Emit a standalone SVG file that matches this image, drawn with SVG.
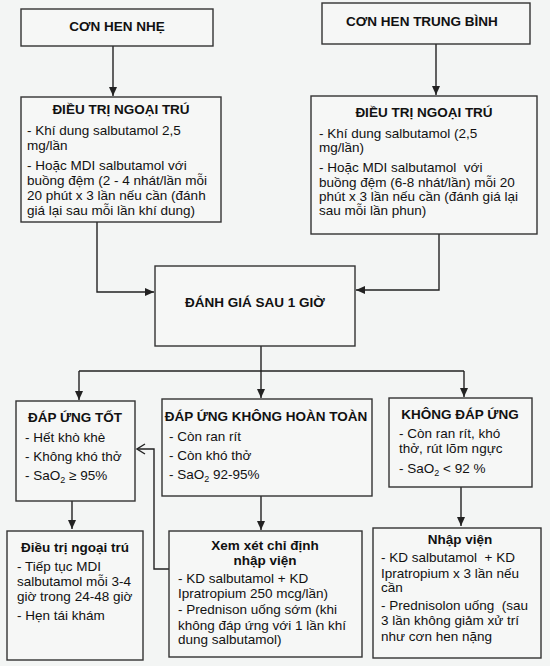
<svg xmlns="http://www.w3.org/2000/svg" width="550" height="666" viewBox="0 0 550 666">
<defs>
<marker id="ah" markerWidth="10" markerHeight="8" refX="9" refY="4" orient="auto" markerUnits="userSpaceOnUse">
<path d="M0,0 L9,4 L0,8 Z" fill="#222"/>
</marker>
<marker id="oh" markerWidth="10" markerHeight="12" refX="9" refY="6" orient="auto" markerUnits="userSpaceOnUse">
<path d="M1,1 L9,6 L1,11" fill="none" stroke="#222" stroke-width="1.4"/>
</marker>
</defs>
<style>
.box{fill:#f6f7f6;stroke:#333;stroke-width:1.4}
text{font-family:"Liberation Sans",Arial,sans-serif;font-size:13.5px;fill:#111}
.b{font-weight:bold}
.c{text-anchor:middle}
.ln{fill:none;stroke:#222;stroke-width:1.4}
.sub{font-size:9px}
</style>
<rect width="550" height="666" fill="#f3f5f4"/>

<g id="connectors">
<path class="ln" d="M113,46 V96" marker-end="url(#ah)"/>
<path class="ln" d="M436,44 V95" marker-end="url(#ah)"/>
<path class="ln" d="M97,222 V292 H154" marker-end="url(#ah)"/>
<path class="ln" d="M439,234 V290 H356" marker-end="url(#ah)"/>
<path class="ln" d="M261,346 V371"/>
<path class="ln" d="M79,371 H464"/>
<path class="ln" d="M79,371 V400" marker-end="url(#ah)"/>
<path class="ln" d="M261,371 V398" marker-end="url(#ah)"/>
<path class="ln" d="M464,371 V397" marker-end="url(#ah)"/>
<path class="ln" d="M72,501 V529" marker-end="url(#ah)"/>
<path class="ln" d="M261,496 V530" marker-end="url(#ah)"/>
<path class="ln" d="M461,487 V526" marker-end="url(#ah)"/>
<path class="ln" d="M169,569 H154 V449 H137" marker-end="url(#oh)"/>
</g>

<g id="con-hen-nhe">
<rect class="box" x="21" y="9" width="192" height="37"/>
<text class="b c" x="117" y="31">CƠN HEN NHẸ</text>
</g>

<g id="con-hen-trung-binh">
<rect class="box" x="322" y="3" width="208" height="41"/>
<text class="b c" x="422" y="26">CƠN HEN TRUNG BÌNH</text>
</g>

<g id="dieu-tri-1">
<rect class="box" x="21" y="97" width="200" height="125"/>
<text class="b c" x="121" y="114">ĐIỀU TRỊ NGOẠI TRÚ</text>
<text x="27" y="135">- Khí dung salbutamol 2,5</text>
<text x="27" y="150">mg/lần</text>
<text x="27" y="170">- Hoặc MDI salbutamol với</text>
<text x="27" y="185">buồng đệm (2 - 4 nhát/lần mỗi</text>
<text x="27" y="200">20 phút x 3 lần nếu cần (đánh</text>
<text x="27" y="215">giá lại sau mỗi lần khí dung)</text>
</g>

<g id="dieu-tri-2">
<rect class="box" x="311" y="96" width="226" height="138"/>
<text class="b c" x="424" y="117">ĐIỀU TRỊ NGOẠI TRÚ</text>
<text x="319" y="138">- Khí dung salbutamol (2,5</text>
<text x="319" y="152">mg/lần)</text>
<text x="319" y="172">- Hoặc MDI salbutamol&#160; với</text>
<text x="319" y="186.5">buồng đệm (6-8 nhát/lần) mỗi 20</text>
<text x="319" y="201">phút x 3 lần nếu cần (đánh giá lại</text>
<text x="319" y="215">sau mỗi lần phun)</text>
</g>

<g id="danh-gia">
<rect class="box" x="155" y="266" width="200" height="80"/>
<text class="b c" x="255" y="307">ĐÁNH GIÁ SAU 1 GIỜ</text>
</g>

<g id="dap-ung-tot">
<rect class="box" x="16" y="401" width="119" height="100"/>
<text class="b c" x="75" y="422">ĐÁP ỨNG TỐT</text>
<text x="25" y="442">- Hết khò khè</text>
<text x="25" y="461">- Không khó thở</text>
<text x="25" y="480">- SaO<tspan class="sub" dy="3">2</tspan><tspan dy="-3"> ≥ 95%</tspan></text>
</g>

<g id="dap-ung-khong-hoan-toan">
<rect class="box" x="162" y="399" width="210" height="97"/>
<text class="b c" x="266" y="421">ĐÁP ỨNG KHÔNG HOÀN TOÀN</text>
<text x="169" y="441">- Còn ran rít</text>
<text x="169" y="460">- Còn khó thở</text>
<text x="169" y="479">- SaO<tspan class="sub" dy="3">2</tspan><tspan dy="-3"> 92-95%</tspan></text>
</g>

<g id="khong-dap-ung">
<rect class="box" x="389" y="398" width="143" height="89"/>
<text class="b c" x="460" y="419">KHÔNG ĐÁP ỨNG</text>
<text x="399" y="438">- Còn ran rít, khó</text>
<text x="399" y="453">thở, rút lõm ngực</text>
<text x="399" y="473">- SaO<tspan class="sub" dy="3">2</tspan><tspan dy="-3"> &lt; 92 %</tspan></text>
</g>

<g id="dieu-tri-ngoai-tru">
<rect class="box" x="7" y="531" width="136" height="129"/>
<text class="b c" x="75" y="552">Điều trị ngoại trú</text>
<text x="17" y="571">- Tiếp tục MDI</text>
<text x="17" y="586">salbutamol mỗi 3-4</text>
<text x="17" y="601">giờ trong 24-48 giờ</text>
<text x="17" y="620">- Hẹn tái khám</text>
</g>

<g id="xem-xet">
<rect class="box" x="169" y="531" width="193" height="126"/>
<text class="b c" x="265" y="550">Xem xét chỉ định</text>
<text class="b c" x="265" y="565">nhập viện</text>
<text x="178" y="583">- KD salbutamol + KD</text>
<text x="178" y="597.5">Ipratropium 250 mcg/lần)</text>
<text x="178" y="614">- Prednison uống sớm (khi</text>
<text x="178" y="629.5">không đáp ứng với 1 lần khí</text>
<text x="178" y="644">dung salbutamol)</text>
</g>

<g id="nhap-vien">
<rect class="box" x="373" y="528" width="168" height="130"/>
<text class="b c" x="460" y="544">Nhập viện</text>
<text x="381" y="562">- KD salbutamol&#160; + KD</text>
<text x="381" y="577.5">Ipratropium x 3 lần nếu</text>
<text x="381" y="592">cần</text>
<text x="381" y="610">- Prednisolon uống&#160; (sau</text>
<text x="381" y="625">3 lần không giảm xử trí</text>
<text x="381" y="641">như cơn hen nặng</text>
</g>
</svg>
